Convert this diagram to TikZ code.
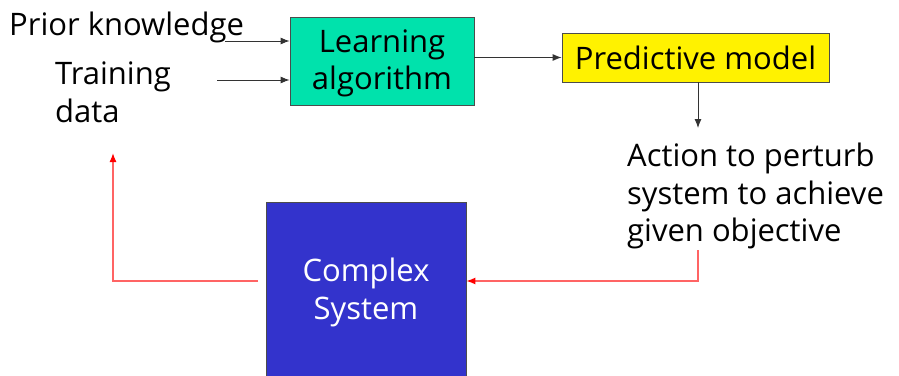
\documentclass[tikz,border=0pt]{standalone}
\usepackage{fontspec}
\setmainfont{Open Sans}
\usetikzlibrary{arrows.meta}
\definecolor{learncol}{RGB}{0,226,172}
\definecolor{sysblue}{RGB}{51,51,204}
\definecolor{loopred}{RGB}{255,100,100}
\tikzset{
  txt/.style={font=\fontsize{31}{37.5}\selectfont, align=left, inner sep=0pt},
  blockbox/.style={draw=black!70, line width=0.8pt, inner sep=0pt, font=\fontsize{31}{38}\selectfont, align=center},
  fwd/.style={draw=black!80, line width=0.9pt, -{Latex[length=9pt,width=7pt]}},
  loop/.style={draw=loopred, line width=1.3pt, -{Latex[length=9pt,width=7pt,color=red]}}
}
\begin{document}
\begin{tikzpicture}[x=1pt,y=-1pt]
\useasboundingbox (0,0) rectangle (899,375);
\clip (0,0) rectangle (899,375);

% blocks
\node[blockbox, fill=learncol, minimum width=184pt, minimum height=88pt] (learn) at (382,61) {};
\node[font=\fontsize{31}{37}\selectfont, align=center, inner sep=0pt] (learntxt) at (382,63) {Learning\\algorithm};
\node[blockbox, fill=yellow, minimum width=267pt, minimum height=49pt] (pred) at (695.5,57.5) {Predictive model};
\node[blockbox, fill=sysblue, text=white, minimum width=200pt, minimum height=180pt] (sys) at (366,292) {Complex\\System};

% text labels
\node[txt, anchor=west] (prior) at (9,27) {Prior knowledge};
\node[txt, anchor=north west] (train) at (55,62) {Training\\data};
\node[txt, anchor=north west] (action) at (627,143) {Action to perturb\\system to achieve\\given objective};

% connector end points
\coordinate (priorend) at (225,41);
\coordinate (trainend) at (217,80);
\coordinate (predout) at (698,82);
\coordinate (actin) at (698,128);
\coordinate (actout) at (698,250);
\coordinate (sysout) at (258,281);
\coordinate (corner) at (113,281);
\coordinate (traintip) at (113,153);

% forward path
\draw[fwd] (priorend) -- (priorend -| learn.west);
\draw[fwd] (trainend) -- (trainend -| learn.west);
\draw[fwd] (learn.east |- pred.west) -- (pred.west);
\draw[fwd] (predout) -- (actin);

% feedback loop
\draw[loop] (actout) |- (sys.east |- sysout);
\draw[loop] (sysout) -- (corner) -- (traintip);
\end{tikzpicture}
\end{document}
